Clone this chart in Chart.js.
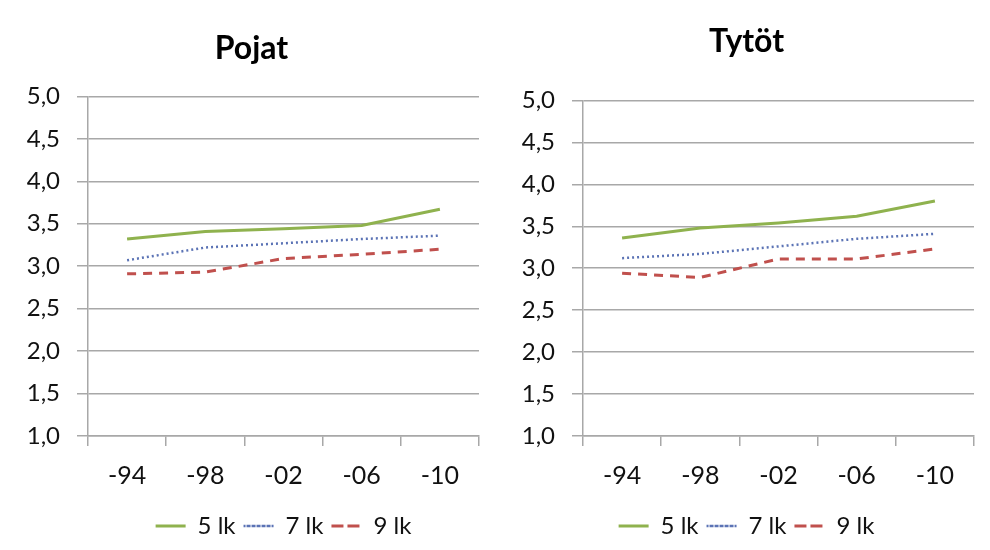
<!DOCTYPE html>
<html>
<head>
<meta charset="utf-8">
<script src="https://cdn.jsdelivr.net/npm/chart.js@4/dist/chart.umd.min.js"></script>
<style>
    html, body { margin: 0; padding: 0; background: #fff; }
    .panel { position: absolute; top: 0; width: 495px; height: 550px; }
    #leftPanel { left: 0; }
    #rightPanel { left: 495px; }
</style>
</head>
<body>
<div class="panel" id="leftPanel"><canvas id="pojatChart"></canvas></div>
<div class="panel" id="rightPanel"><canvas id="tytotChart"></canvas></div>
<script>
// Values
const categories = ['-94', '-98', '-02', '-06', '-10'];
const yTickValues = [1.0, 1.5, 2.0, 2.5, 3.0, 3.5, 4.0, 4.5, 5.0];
const seriesNames = ['5 lk', '7 lk', '9 lk'];

const pojat5 = [3.32, 3.41, 3.44, 3.48, 3.67];
const pojat7 = [3.07, 3.22, 3.27, 3.32, 3.36];
const pojat9 = [2.91, 2.93, 3.09, 3.14, 3.20];

const tytot5 = [3.36, 3.48, 3.54, 3.62, 3.80];
const tytot7 = [3.12, 3.17, 3.26, 3.35, 3.41];
const tytot9 = [2.94, 2.89, 3.11, 3.11, 3.23];

const FONT = "Lato, 'Open Sans', sans-serif";
const GRID = '#a8a8a8';
const TEXT = '#111';

function makeChart(canvasId, title, s5, s7, s9, titlePad, legendFull) {
    const ctx = document.getElementById(canvasId);
    return new Chart(ctx, {
        type: 'line',
        data: {
            labels: categories,
            datasets: [
                { label: seriesNames[0], data: s5, borderColor: '#8fb24e', backgroundColor: '#8fb24e',
                  borderWidth: 3, pointRadius: 0, tension: 0 },
                { label: seriesNames[1], data: s7, borderColor: '#5b73b5', backgroundColor: '#5b73b5',
                  borderWidth: 2.5, borderDash: [2, 3], pointRadius: 0, tension: 0 },
                { label: seriesNames[2], data: s9, borderColor: '#c0504d', backgroundColor: '#c0504d',
                  borderWidth: 3, borderDash: [9, 7], pointRadius: 0, tension: 0 }
            ]
        },
        options: {
            responsive: true,
            maintainAspectRatio: false,
            animation: false,
            // y labels need room inside the scale box, otherwise they get clipped
            layout: { padding: { left: 24, right: 16, top: 0, bottom: 2 } },
            plugins: {
                title: {
                    display: true,
                    text: title,
                    color: '#000',
                    font: { family: FONT, size: 32, weight: 'bold', lineHeight: 1.2 },
                    padding: titlePad
                },
                legend: {
                    position: 'bottom',
                    fullSize: legendFull,
                    labels: {
                        color: TEXT,
                        font: { family: FONT, size: 24 },
                        boxWidth: 30,
                        boxHeight: 0,
                        padding: 8
                    }
                },
                tooltip: { enabled: false }
            },
            scales: {
                x: {
                    offset: true,
                    afterFit: function (scale) { scale.height = 70; },
                    grid: { offset: true, drawOnChartArea: false, drawTicks: true, tickLength: 10,
                            color: GRID, lineWidth: 1.5 },
                    border: { display: true, color: GRID, width: 1.5 },
                    ticks: { color: TEXT, padding: 15, maxRotation: 0,
                             font: { family: FONT, size: 25 } }
                },
                y: {
                    min: 1,
                    max: 5,
                    afterFit: function (scale) { scale.width = 64; },
                    afterBuildTicks: function (scale) {
                        scale.ticks = yTickValues.map(function (v) { return { value: v }; });
                    },
                    grid: { color: GRID, lineWidth: 1.5, drawTicks: true, tickLength: 11 },
                    border: { display: true, color: GRID, width: 1.5 },
                    ticks: {
                        color: TEXT,
                        padding: 17,
                        font: { family: FONT, size: 24 },
                        callback: function (v) { return Number(v).toFixed(1).replace('.', ','); }
                    }
                }
            }
        }
    });
}

makeChart('pojatChart', 'Pojat', pojat5, pojat7, pojat9, { top: 29, bottom: 29 }, false);
makeChart('tytotChart', 'Tytöt', tytot5, tytot7, tytot9, { top: 22, bottom: 40 }, true);
</script>
</body>
</html>
